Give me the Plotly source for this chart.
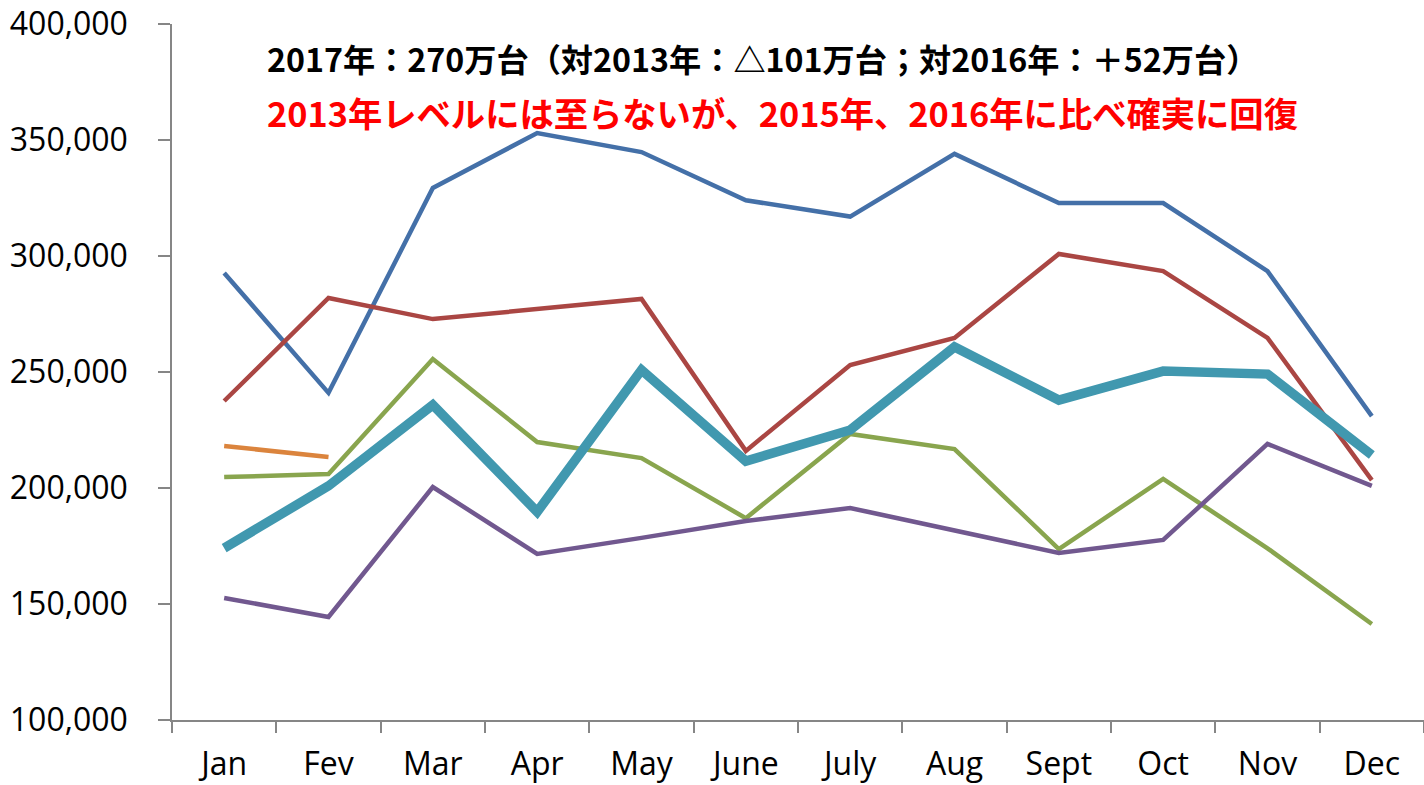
import plotly.graph_objects as go

months = ["Jan", "Fev", "Mar", "Apr", "May", "June", "July", "Aug", "Sept", "Oct", "Nov", "Dec"]

y2013 = [292700, 241000, 329300, 353000, 344800, 324000, 317000, 344000, 322800, 322800, 293500, 231000]
y2014 = [237500, 281900, 272800, 277000, 281500, 216000, 253000, 264700, 300900, 293500, 264700, 203400]
y2015 = [204700, 206000, 255600, 219800, 212900, 187000, 223300, 216800, 173700, 203900, 174000, 141400]
y2016 = [152600, 144400, 200400, 171600, 178500, 185800, 191400, 181500, 172000, 177600, 219000, 200900]
y2017 = [174100, 200900, 235800, 189700, 250900, 211600, 225000, 260800, 237900, 250400, 249100, 214200]
y2018 = [218100, 213400]

line1 = "2017年：270万台（対2013年：△101万台；対2016年：＋52万台）"
line2 = "2013年レベルには至らないが、2015年、2016年に比べ確実に回復"

series = [
    ("2013", y2013, "#4470A8", 4.5),
    ("2014", y2014, "#AA4643", 4.5),
    ("2015", y2015, "#89A54E", 4.5),
    ("2016", y2016, "#71588F", 4.5),
    ("2017", y2017, "#4198AF", 9.5),
    ("2018", y2018, "#DB843D", 4.5),
]

fig = go.Figure()
for name, vals, color, w in series:
    fig.add_trace(go.Scatter(
        x=months[:len(vals)], y=vals, mode="lines", name=name,
        line=dict(color=color, width=w),
    ))

axis_font = dict(family="Open Sans, sans-serif", size=32, color="#000000")

fig.update_layout(
    width=1424, height=785,
    margin=dict(l=172, r=0, t=24, b=65),
    paper_bgcolor="white", plot_bgcolor="white",
    showlegend=False,
    xaxis=dict(
        type="category", categoryorder="array", categoryarray=months,
        range=[-0.5, 11.5], automargin=False,
        showline=True, linecolor="#868686", linewidth=1.5,
        ticks="outside", tickson="boundaries", ticklen=11, tickcolor="#868686", tickwidth=1.5,
        showgrid=False, zeroline=False,
        tickfont=axis_font, ticklabelstandoff=15,
    ),
    yaxis=dict(
        range=[100000, 400000], dtick=50000, tickformat=",", automargin=False,
        showline=True, linecolor="#868686", linewidth=1.5,
        ticks="outside", ticklen=12, tickcolor="#868686", tickwidth=1.5,
        showgrid=False, zeroline=False, ticklabeloverflow="allow",
        tickfont=axis_font,
        ticklabelstandoff=24,
    ),
    annotations=[
        dict(text="<b>" + line1 + "</b>", xref="paper", yref="paper",
             x=(265 - 172) / 1252, y=1 - (58 - 24) / 696, xanchor="left", yanchor="middle",
             showarrow=False,
             font=dict(family="Noto Sans CJK JP", size=32.2, color="#000000")),
        dict(text="<b>" + line2 + "</b>", xref="paper", yref="paper",
             x=(265 - 172) / 1252, y=1 - (112 - 24) / 696, xanchor="left", yanchor="middle",
             showarrow=False,
             font=dict(family="Noto Sans CJK JP", size=34.3, color="#FF0000")),
    ],
)

# remove the default page body margin so the figure sits at the window's top-left corner
fig.write_html(
    "out.html",
    config={"displayModeBar": False},
    post_script="document.body.style.margin='0';document.body.style.overflow='hidden';",
)
